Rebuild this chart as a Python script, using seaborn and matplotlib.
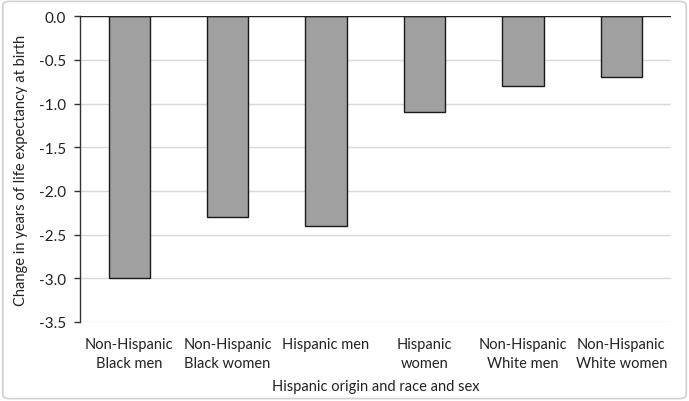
import matplotlib
matplotlib.use("Agg")
import matplotlib.pyplot as plt
import seaborn as sns
import pandas as pd
from matplotlib.patches import FancyBboxPatch

categories = ["Non-Hispanic\nBlack men", "Non-Hispanic\nBlack women", "Hispanic men",
              "Hispanic\nwomen", "Non-Hispanic\nWhite men", "Non-Hispanic\nWhite women"]
values = [-3.0, -2.3, -2.4, -1.1, -0.8, -0.7]
yticks = [0.0, -0.5, -1.0, -1.5, -2.0, -2.5, -3.0, -3.5]

sns.set_theme(style="white")
plt.rcParams['font.family'] = ['Lato', 'DejaVu Sans']

df = pd.DataFrame({"cat": categories, "val": values})

fig = plt.figure(figsize=(6.89, 4.02), dpi=100)
ax = fig.add_axes([80/689, 1 - 323/402, (670.5-80)/689, (323-17.3)/402])

sns.barplot(data=df, x="cat", y="val", ax=ax, color="#a0a0a0", width=0.42,
            edgecolor="#1a1a1a", linewidth=1.0, saturation=1, zorder=3)

fs = 10.5
ax.set_ylim(-3.5, 0.0)
ax.set_yticks(yticks)
ax.set_yticklabels([f"{v:.1f}" for v in yticks])
ax.set_xlim(-0.5, len(categories) - 0.5)
ax.yaxis.grid(True, color="#d9d9d9", linewidth=1.0, zorder=0)
ax.set_axisbelow(True)
for s in ["right", "bottom", "top"]:
    ax.spines[s].set_visible(False)
ax.spines["left"].set_color("#333333")
ax.spines["left"].set_linewidth(1.0)
ax.axhline(0, color="#222222", linewidth=1.0, zorder=4)
ax.tick_params(axis="y", which="both", left=True, length=4, width=1, color="#333333",
               labelsize=11, pad=6, labelcolor="#222222")
ax.tick_params(axis="x", bottom=False, labelsize=fs, pad=5, labelcolor="#222222")
for lab in ax.get_xticklabels():
    lab.set_linespacing(1.4)
ax.set_ylabel("Change in years of life expectancy at birth", fontsize=fs, color="#222222", labelpad=8)
ax.set_xlabel("Hispanic origin and race and sex", fontsize=fs, color="#222222", labelpad=7)

border = FancyBboxPatch((0.004, 0.006), 0.992, 0.988, boxstyle="round,pad=0,rounding_size=0.01",
                        transform=fig.transFigure, fill=False, edgecolor="#d0d0d0", linewidth=1.2)
fig.patches.append(border)

fig.savefig("out.png", dpi=100)
